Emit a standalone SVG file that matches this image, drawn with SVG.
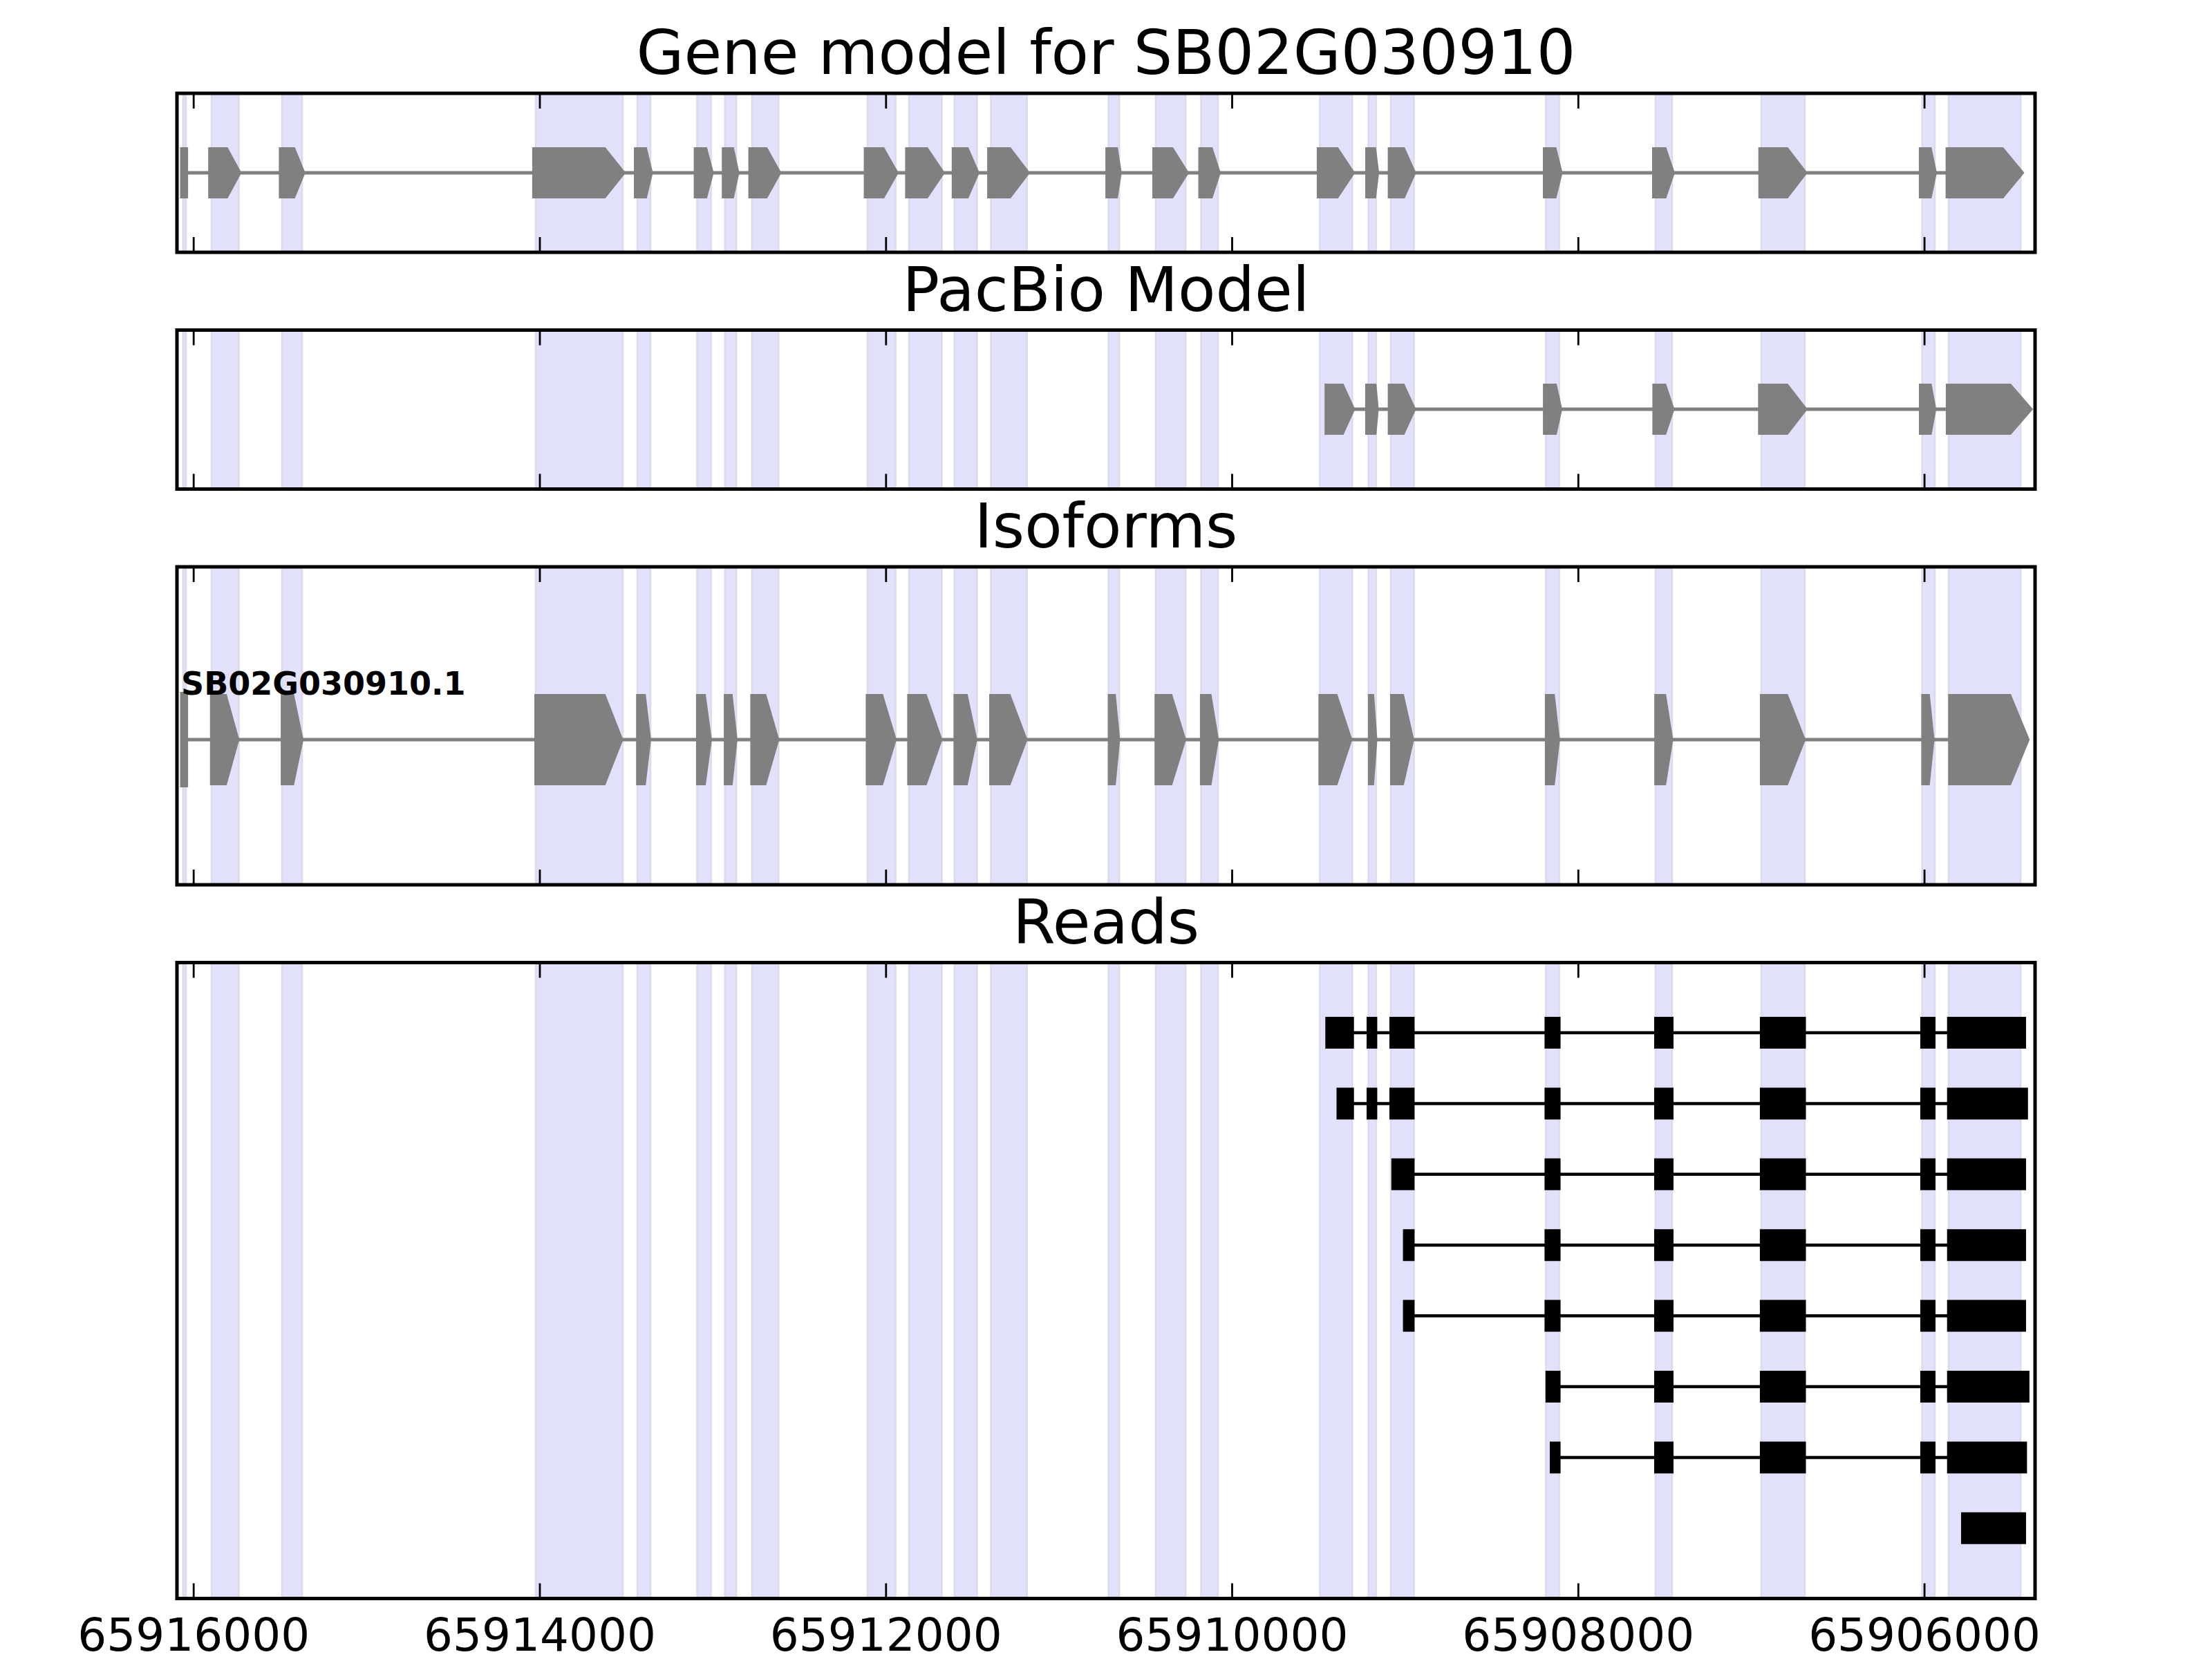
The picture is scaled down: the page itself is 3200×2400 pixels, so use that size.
<svg xmlns="http://www.w3.org/2000/svg" xmlns:xlink="http://www.w3.org/1999/xlink" width="3200" height="2400" viewBox="0 0 3200 2400">
<style>
.sp{fill:#e1e1fc;stroke:#dadaea;stroke-width:2.5}
.gx{fill:#808080;stroke:none}
.gi{stroke:#808080;stroke-width:5;fill:none}
.rx{fill:#000}
.ri{stroke:#000;stroke-width:4.5;fill:none}
.fr{fill:none;stroke:#000;stroke-width:5}
.tk{fill:none;stroke:#000;stroke-width:2.8}
.ttl{font-family:"DejaVu Sans","Liberation Sans",sans-serif;font-size:89px;text-anchor:middle;fill:#000}
.tl{font-family:"DejaVu Sans","Liberation Sans",sans-serif;font-size:66px;text-anchor:middle;fill:#000}
.lab{font-family:"DejaVu Sans","Liberation Sans",sans-serif;font-size:46px;font-weight:bold;fill:#000}
</style>
<defs>
<g id="spans">
<rect class="sp" x="265" y="0" width="4" height="920"/>
<rect class="sp" x="306" y="0" width="39.5" height="920"/>
<rect class="sp" x="408" y="0" width="29" height="920"/>
<rect class="sp" x="775" y="0" width="126" height="920"/>
<rect class="sp" x="922" y="0" width="19" height="920"/>
<rect class="sp" x="1008.5" y="0" width="20.1" height="920"/>
<rect class="sp" x="1048.7" y="0" width="16.5" height="920"/>
<rect class="sp" x="1088" y="0" width="38.3" height="920"/>
<rect class="sp" x="1254.9" y="0" width="40.6" height="920"/>
<rect class="sp" x="1315" y="0" width="47.5" height="920"/>
<rect class="sp" x="1380.8" y="0" width="32.6" height="920"/>
<rect class="sp" x="1433.5" y="0" width="52.2" height="920"/>
<rect class="sp" x="1603.6" y="0" width="15.6" height="920"/>
<rect class="sp" x="1671.9" y="0" width="43.3" height="920"/>
<rect class="sp" x="1737.5" y="0" width="24.5" height="920"/>
<rect class="sp" x="1909.4" y="0" width="46.9" height="920"/>
<rect class="sp" x="1979.5" y="0" width="11.1" height="920"/>
<rect class="sp" x="2012" y="0" width="33.5" height="920"/>
<rect class="sp" x="2236.4" y="0" width="19.3" height="920"/>
<rect class="sp" x="2394.9" y="0" width="24.1" height="920"/>
<rect class="sp" x="2548" y="0" width="63" height="920"/>
<rect class="sp" x="2780.7" y="0" width="18.3" height="920"/>
<rect class="sp" x="2819" y="0" width="104.2" height="920"/>
</g>
<clipPath id="c1"><rect x="256" y="0" width="2688" height="230"/></clipPath>
<clipPath id="c3"><rect x="256" y="0" width="2688" height="460"/></clipPath>
<clipPath id="c4"><rect x="256" y="0" width="2688" height="920"/></clipPath>
</defs>
<rect x="0" y="0" width="3200" height="2400" fill="#fff"/>

<g id="panel-gene-model">
<g transform="translate(0,135)"><use xlink:href="#spans" clip-path="url(#c1)"/></g>
<line class="gi" x1="266" y1="250" x2="2900" y2="250"/>
<rect class="gx" x="260.5" y="213" width="11.6" height="74"/>
<path class="gx" d="M301.2 213H329.3L349.4 250L329.3 287H301.2Z M403.4 213H426.6L441.8 250L426.6 287H403.4Z M769.9 213H875.7L905.2 250L875.7 287H769.9Z M917 213H935.7L944.6 250L935.7 287H917Z M1003.6 213H1022.8L1032.6 250L1022.8 287H1003.6Z M1044.2 213H1061.6L1069.6 250L1061.6 287H1044.2Z M1082.6 213H1109.8L1130.4 250L1109.8 287H1082.6Z M1249.6 213H1279L1300 250L1279 287H1249.6Z M1309.4 213H1342L1367 250L1342 287H1309.4Z M1376.8 213H1400.9L1417 250L1400.9 287H1376.8Z M1428.1 213H1462L1490.2 250L1462 287H1428.1Z M1599.1 213H1617L1622.8 250L1617 287H1599.1Z M1667 213H1696.9L1720.1 250L1696.9 287H1667Z M1733.5 213H1754L1766 250L1754 287H1733.5Z M1904.9 213H1935.7L1960.3 250L1935.7 287H1904.9Z M1975 213H1990.6L1995.1 250L1990.6 287H1975Z M2007.6 213H2032.1L2048.7 250L2032.1 287H2007.6Z M2232 213H2251.4L2260.6 250L2251.4 287H2232Z M2390 213H2410.4L2423 250L2410.4 287H2390Z M2543.7 213H2586.3L2615 250L2586.3 287H2543.7Z M2775.9 213H2794.3L2802 250L2794.3 287H2775.9Z M2814.6 213H2898L2928.6 250L2898 287H2814.6Z"/>
<rect class="fr" x="256" y="135" width="2688" height="230"/>
<path class="tk" d="M280.2 135v22M781 135v22M1281.8 135v22M1782.5 135v22M2283.3 135v22M2784.1 135v22M280.2 365v-22M781 365v-22M1281.8 365v-22M1782.5 365v-22M2283.3 365v-22M2784.1 365v-22"/>
<text class="ttl" x="1600" y="107">Gene model for SB02G030910</text>
</g>

<g id="panel-pacbio">
<g transform="translate(0,477.5)"><use xlink:href="#spans" clip-path="url(#c1)"/></g>
<line class="gi" x1="1930" y1="592" x2="2920" y2="592"/>
<path class="gx" d="M1916.2 555H1943.5L1960.5 592L1943.5 629H1916.2Z M1974.9 555H1991.2L1994.6 592L1991.2 629H1974.9Z M2007.6 555H2031.5L2048.6 592L2031.5 629H2007.6Z M2232.1 555H2251.9L2260.1 592L2251.9 629H2232.1Z M2390.4 555H2410.2L2422.5 592L2410.2 629H2390.4Z M2543.3 555H2586.3L2615 592L2586.3 629H2543.3Z M2776 555H2794.4L2801.2 592L2794.4 629H2776Z M2814.9 555H2909L2941.1 592L2909 629H2814.9Z"/>
<rect class="fr" x="256" y="477.5" width="2688" height="230"/>
<path class="tk" d="M280.2 477.5v22M781 477.5v22M1281.8 477.5v22M1782.5 477.5v22M2283.3 477.5v22M2784.1 477.5v22M280.2 707.5v-22M781 707.5v-22M1281.8 707.5v-22M1782.5 707.5v-22M2283.3 707.5v-22M2784.1 707.5v-22"/>
<text class="ttl" x="1600" y="449.5">PacBio Model</text>
</g>

<g id="panel-isoforms">
<g transform="translate(0,820)"><use xlink:href="#spans" clip-path="url(#c3)"/></g>
<line class="gi" x1="266" y1="1070" x2="2910" y2="1070"/>
<rect class="gx" x="260.5" y="1001" width="11.6" height="138"/>
<path class="gx" d="M303.8 1004H327.9L346.3 1070L327.9 1136H303.8Z M406.1 1004H425.3L439.1 1070L425.3 1136H406.1Z M773 1004H875.7L901.6 1070L875.7 1136H773Z M920.2 1004H934.2L941.9 1070L934.2 1136H920.2Z M1006.9 1004H1020.9L1029.9 1070L1020.9 1136H1006.9Z M1047.1 1004H1059.8L1066.9 1070L1059.8 1136H1047.1Z M1085.4 1004H1108.3L1127.4 1070L1108.3 1136H1085.4Z M1252.4 1004H1277.3L1297.1 1070L1277.3 1136H1252.4Z M1312.4 1004H1340.5L1363.4 1070L1340.5 1136H1312.4Z M1379.4 1004H1399.8L1413.8 1070L1399.8 1136H1379.4Z M1431 1004H1461.6L1486.5 1070L1461.6 1136H1431Z M1602.6 1004H1614.1L1620.4 1070L1614.1 1136H1602.6Z M1670.2 1004H1695.7L1716 1070L1695.7 1136H1670.2Z M1735.9 1004H1752.5L1763.3 1070L1752.5 1136H1735.9Z M1907.3 1004H1934.6L1956.4 1070L1934.6 1136H1907.3Z M1979 1004H1987.8L1992.6 1070L1987.8 1136H1979Z M2011 1004H2030.8L2045.8 1070L2030.8 1136H2011Z M2234.9 1004H2249.2L2256.7 1070L2249.2 1136H2234.9Z M2393.2 1004H2410.2L2420.5 1070L2410.2 1136H2393.2Z M2546 1004H2586.3L2612.2 1070L2586.3 1136H2546Z M2779.4 1004H2791.7L2798.5 1070L2791.7 1136H2779.4Z M2818.3 1004H2909L2936.3 1070L2909 1136H2818.3Z"/>
<text class="lab" x="262" y="1005">SB02G030910.1</text>
<rect class="fr" x="256" y="820" width="2688" height="460"/>
<path class="tk" d="M280.2 820v22M781 820v22M1281.8 820v22M1782.5 820v22M2283.3 820v22M2784.1 820v22M280.2 1280v-22M781 1280v-22M1281.8 1280v-22M1782.5 1280v-22M2283.3 1280v-22M2784.1 1280v-22"/>
<text class="ttl" x="1600" y="792">Isoforms</text>
</g>

<g id="panel-reads">
<g transform="translate(0,1392.5)"><use xlink:href="#spans" clip-path="url(#c4)"/></g>
<g id="read-1">
<line class="ri" x1="1930" y1="1494" x2="2900" y2="1494"/>
<path class="rx" d="M1917.3 1471h41.4v46h-41.4z M1977 1471h15.4v46h-15.4z M2010 1471h36.4v46h-36.4z M2234.4 1471h23.2v46h-23.2z M2393 1471h28v46h-28z M2545.9 1471h66.6v46h-66.6z M2778 1471h22v46h-22z M2816.7 1471h114.3v46h-114.3z"/>
</g>
<g id="read-2">
<line class="ri" x1="1940" y1="1596.4" x2="2900" y2="1596.4"/>
<path class="rx" d="M1933.5 1573.4h25.2v46h-25.2z M1977 1573.4h15.4v46h-15.4z M2010 1573.4h36.4v46h-36.4z M2234.4 1573.4h23.2v46h-23.2z M2393 1573.4h28v46h-28z M2545.9 1573.4h66.6v46h-66.6z M2778 1573.4h22v46h-22z M2816.7 1573.4h117.1v46h-117.1z"/>
</g>
<g id="read-3">
<line class="ri" x1="2020" y1="1698.8" x2="2900" y2="1698.8"/>
<path class="rx" d="M2012.8 1675.8h33.6v46h-33.6z M2234.4 1675.8h23.2v46h-23.2z M2393 1675.8h28v46h-28z M2545.9 1675.8h66.6v46h-66.6z M2778 1675.8h22v46h-22z M2816.7 1675.8h114.3v46h-114.3z"/>
</g>
<g id="read-4">
<line class="ri" x1="2035" y1="1801.2" x2="2900" y2="1801.2"/>
<path class="rx" d="M2029.6 1778.2h16.8v46h-16.8z M2234.4 1778.2h23.2v46h-23.2z M2393 1778.2h28v46h-28z M2545.9 1778.2h66.6v46h-66.6z M2778 1778.2h22v46h-22z M2816.7 1778.2h114.3v46h-114.3z"/>
</g>
<g id="read-5">
<line class="ri" x1="2035" y1="1903.6" x2="2900" y2="1903.6"/>
<path class="rx" d="M2029.6 1880.6h16.8v46h-16.8z M2234.4 1880.6h23.2v46h-23.2z M2393 1880.6h28v46h-28z M2545.9 1880.6h66.6v46h-66.6z M2778 1880.6h22v46h-22z M2816.7 1880.6h114.3v46h-114.3z"/>
</g>
<g id="read-6">
<line class="ri" x1="2240" y1="2006" x2="2900" y2="2006"/>
<path class="rx" d="M2235.8 1983h21.8v46h-21.8z M2393 1983h28v46h-28z M2545.9 1983h66.6v46h-66.6z M2778 1983h22v46h-22z M2816.7 1983h119.2v46h-119.2z"/>
</g>
<g id="read-7">
<line class="ri" x1="2245" y1="2108.4" x2="2900" y2="2108.4"/>
<path class="rx" d="M2242 2085.4h15.6v46h-15.6z M2393 2085.4h28v46h-28z M2545.9 2085.4h66.6v46h-66.6z M2778 2085.4h22v46h-22z M2816.7 2085.4h115.7v46h-115.7z"/>
</g>
<g id="read-8">
<path class="rx" d="M2837 2187.8h94v46h-94z"/>
</g>
<rect class="fr" x="256" y="1392.5" width="2688" height="920"/>
<path class="tk" d="M280.2 1392.5v22M781 1392.5v22M1281.8 1392.5v22M1782.5 1392.5v22M2283.3 1392.5v22M2784.1 1392.5v22M280.2 2312.5v-22M781 2312.5v-22M1281.8 2312.5v-22M1782.5 2312.5v-22M2283.3 2312.5v-22M2784.1 2312.5v-22"/>
<text class="ttl" x="1600" y="1364.5">Reads</text>
</g>

<g id="x-axis-labels">
<text class="tl" x="280.2" y="2388">65916000</text>
<text class="tl" x="781" y="2388">65914000</text>
<text class="tl" x="1281.8" y="2388">65912000</text>
<text class="tl" x="1782.5" y="2388">65910000</text>
<text class="tl" x="2283.3" y="2388">65908000</text>
<text class="tl" x="2784.1" y="2388">65906000</text>
</g>
</svg>
